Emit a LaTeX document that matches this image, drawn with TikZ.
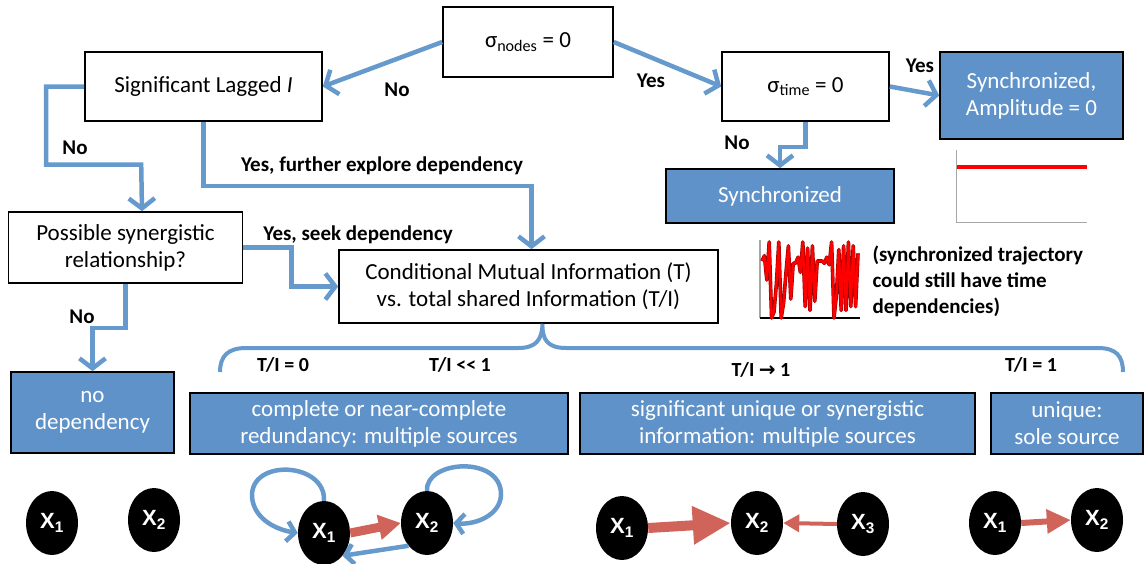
\documentclass[tikz,border=0pt]{standalone}
\usepackage{fontspec}
\setmainfont{Carlito}
\newfontfamily\xfont{Liberation Sans}
\newfontfamily\symfont{DejaVu Sans}
\usepackage{tikz}
\usetikzlibrary{calc, positioning, arrows.meta, shapes.geometric}

\definecolor{lineblue}{RGB}{102,153,204}
\definecolor{boxblue}{RGB}{95,146,200}
\definecolor{arrowred}{RGB}{208,100,90}
\definecolor{plotred}{RGB}{255,0,0}

\begin{document}
\begin{tikzpicture}[x=1pt, y=-1pt,
    qbox/.style={draw, line width=1.6pt, fill=white, inner sep=0pt, align=center,
      font=\fontsize{23}{27}\selectfont},
    bbox/.style={qbox, fill=boxblue, text=white},
    lab/.style={font=\fontsize{21}{26}\selectfont\bfseries},
    tilab/.style={font=\fontsize{20}{24}\selectfont\bfseries},
    flow/.style={draw=lineblue, line width=4.5pt, line join=miter,
      -{Straight Barb[length=10pt, width=26pt]}},
    braceline/.style={draw=lineblue, line width=4pt},
    xnode/.style={ellipse, fill=black, text=white, minimum width=52pt,
      minimum height=64pt, inner sep=0pt, font=\xfont\fontsize{22}{24}\selectfont\bfseries},
    redarrow/.style={draw=arrowred, line cap=butt},
    loopline/.style={draw=lineblue, line width=4.5pt,
      -{Straight Barb[length=8pt, width=20pt]}}]

  \useasboundingbox (0,0) rectangle (1144,563);

  % Decision blocks
  \node[qbox, minimum width=170, minimum height=70] (nodes) at (528,42) {σ\textsubscript{nodes} = 0};
  \node[qbox, minimum width=237, minimum height=69] (lagged) at (203.5,86.5) {Significant Lagged \textit{I}};
  \node[qbox, minimum width=167, minimum height=69] (time) at (805.5,86.5) {σ\textsubscript{time} = 0};
  \node[qbox, minimum width=234, minimum height=71] (poss) at (125.5,247.5) {Possible synergistic\\relationship?};
  \node[qbox, minimum width=379, minimum height=73] (cmi) at (528.5,286.5) {Conditional Mutual Information (T)\\vs. total shared Information (T/I)};

  % Outcome blocks
  \node[bbox, minimum width=183, minimum height=87] (amp) at (1031.5,95.5) {Synchronized,\\Amplitude = 0};
  \node[bbox, minimum width=228, minimum height=54] (sync) at (780,196) {Synchronized};
  \node[bbox, minimum width=163, minimum height=81] (nodep) at (92.5,412.5) {no\\dependency};
  \node[bbox, minimum width=378, minimum height=61] (redund) at (379,423.5) {complete or near-complete\\redundancy: multiple sources};
  \node[bbox, minimum width=395, minimum height=61] (signif) at (777.5,423.5) {significant unique or synergistic\\information: multiple sources};
  \node[bbox, minimum width=152, minimum height=61] (unique) at (1067,423.5) {unique:\\sole source};

  % Arrows and labels
  \draw[flow] (nodes.west) -- (lagged.east);
  \node[lab] (nolag) at (397,90) {No};
  \draw[flow] (nodes.east) -- (time.west);
  \node[lab] (yestime) at (651,81) {Yes};
  \draw[flow] (time.east) -- (amp.west);
  \node[lab] (yesamp) at (920,66) {Yes};
  \draw[flow] (time.south) -- ++(0,25) -| (sync.north);
  \node[lab] (nosync) at (737,143) {No};
  \draw[flow] (lagged.west) -- ++(-38,0) |- ++(95,78) -- ([xshift=16.5pt]poss.north);
  \node[lab] (noposs) at (75,148) {No};
  \draw[flow] (lagged.south) -- ++(0,64) -| ([xshift=3pt]cmi.north);
  \node[lab] (yesfurther) at (382,166) {Yes, further explore dependency};
  \draw[flow] (poss.east) -- ++(48,0) |- (cmi.west);
  \node[lab] (yesseek) at (358,235) {Yes, seek dependency};
  \draw[flow] (poss.south) -- ++(0,44) -| (nodep.north);
  \node[lab] (nodeplab) at (82,317) {No};

  % Brace under CMI
  \coordinate (tip) at ([xshift=14pt]cmi.south);
  \draw[braceline] (220,372) .. controls (220,356) and (228,348) .. (246,348) -- (518,348)
    .. controls (536,348) and (542,340) .. (tip)
    .. controls (542,340) and (548,348) .. (566,348) -- (1098,348)
    .. controls (1116,348) and (1123,356) .. (1123,372);
  \node[tilab] (ti0) at (283,365) {T/I = 0};
  \node[tilab] (tiless) at (460,365) {T/I <{}< 1};
  \node[tilab] (tito) at (761,370) {T/I {\symfont\bfseries →} 1};
  \node[tilab] (tione) at (1031,365) {T/I = 1};

  % Constant trajectory
  \draw[gray!70, line width=1pt] (956,150) -- (956,222) -- (1087,222);
  \draw[plotred, line width=3.2pt] (957,167) -- (1087,167);

  % Fluctuating trajectory
  \draw[gray!70, line width=1.2pt] (760,240) -- (760,318);
  \draw[black, line width=1.2pt] (760,318) -- (860,318);
  \begin{scope}[shift={(762,318)}, x=2.4pt, y=76pt]
    \draw[red!60!black, line width=3.6pt, line join=round] plot coordinates {
      (0,0.75) (1,0.82) (2,0.5) (3,1.0) (4,0.0) (5,0.08) (6,0.45) (7,1.0) (8,0.0)
      (9,0.2) (10,0.6) (11,0.95) (12,0.25) (13,0.72) (14,0.72) (15,0.8) (16,0.6)
      (17,1.0) (18,0.15) (19,0.92) (20,0.1) (21,0.95) (22,0.22) (23,0.75) (24,0.75)
      (25,0.75) (26,0.72) (27,0.8) (28,0.7) (29,1.0) (30,0.0) (31,0.3) (32,0.9)
      (33,0.1) (34,0.95) (35,0.1) (36,1.0) (37,0.15) (38,0.95) (39,0.15) (40,0.85)};
    \draw[plotred, line width=2.4pt, line join=round] plot coordinates {
      (0,0.75) (1,0.82) (2,0.5) (3,1.0) (4,0.0) (5,0.08) (6,0.45) (7,1.0) (8,0.0)
      (9,0.2) (10,0.6) (11,0.95) (12,0.25) (13,0.72) (14,0.72) (15,0.8) (16,0.6)
      (17,1.0) (18,0.15) (19,0.92) (20,0.1) (21,0.95) (22,0.22) (23,0.75) (24,0.75)
      (25,0.75) (26,0.72) (27,0.8) (28,0.7) (29,1.0) (30,0.0) (31,0.3) (32,0.9)
      (33,0.1) (34,0.95) (35,0.1) (36,1.0) (37,0.15) (38,0.95) (39,0.15) (40,0.85)};
  \end{scope}
  \node[lab, anchor=west, align=left] (note) at (869,281)
    {(synchronized trajectory\\could still have time\\dependencies)};

  % Network sketches
  \node[xnode] (n1) at (52,523) {X\textsubscript{1}};
  \node[xnode] (n2) at (154,520) {X\textsubscript{2}};

  \node[xnode] (r1) at (324,533) {X\textsubscript{1}};
  \node[xnode] (r2) at (427,523) {X\textsubscript{2}};
  \draw[redarrow, line width=9pt, -{Triangle[length=22pt, width=24pt]}] (r1.east) -- (r2.west);
  \draw[loopline] (r2.south west) -- (r1.south east);
  \draw[loopline] (r1.north) .. controls (326,462) and (250,458) .. (252,497)
    .. controls (254,520) and (278,530) .. (r1.west);
  \draw[loopline] (r2.north) .. controls (425,460) and (502,455) .. (501,495)
    .. controls (500,515) and (476,525) .. (r2.east);

  \node[xnode] (s1) at (622,528) {X\textsubscript{1}};
  \node[xnode] (s2) at (757,523) {X\textsubscript{2}};
  \node[xnode] (s3) at (863,524) {X\textsubscript{3}};
  \draw[redarrow, line width=10pt, -{Triangle[length=38pt, width=36pt]}] (s1.east) -- (s2.west);
  \draw[redarrow, line width=4pt, -{Triangle[length=16pt, width=17pt]}] (s3.west) -- (s2.east);

  \node[xnode] (u1) at (995,523) {X\textsubscript{1}};
  \node[xnode] (u2) at (1097,520) {X\textsubscript{2}};
  \draw[redarrow, line width=6pt, -{Triangle[length=24pt, width=23pt]}] (u1.east) -- (u2.west);

\end{tikzpicture}
\end{document}
